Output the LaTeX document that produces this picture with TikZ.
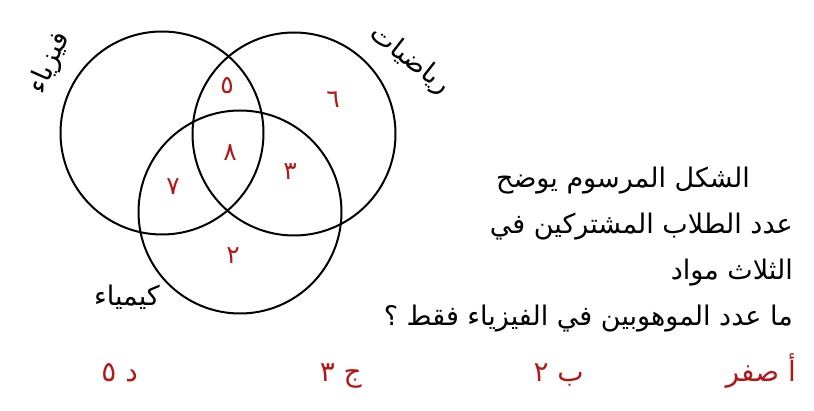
\documentclass[tikz,border=0pt]{standalone}
\usepackage{fontspec}
\newfontfamily\arabicfont[Script=Arabic]{DejaVu Sans}
\TeXXeTstate=1
\usetikzlibrary{positioning}
\definecolor{answerred}{RGB}{178,24,24}
\tikzset{
  setcircle/.style={draw, circle, line width=2pt, minimum size=203pt, inner sep=0pt},
  countlabel/.style={text=answerred, font=\arabicfont\fontsize{25}{25}\selectfont, inner sep=0pt},
  setname/.style={font=\arabicfont\fontsize{27}{27}\selectfont, inner sep=0pt},
  questionline/.style={font=\arabicfont\fontsize{27}{27}\selectfont, anchor=base east, inner sep=0pt},
  choice/.style={text=answerred, font=\arabicfont\fontsize{28}{28}\selectfont, anchor=base east, inner sep=0pt}
}

\begin{document}
\begin{tikzpicture}[x=1pt,y=-1pt]
    \useasboundingbox (0,0) rectangle (814,411);
    % the three sets
    \node[setcircle] (phys) at (162,133) {};
    \node[setcircle] (math) at (294,134) {};
    \node[setcircle] (chem) at (240,212) {};
    % set names
    \node[setname, rotate=66] (physname) at (50,63) {\beginR فيزياء\endR};
    \node[setname, rotate=-38] (mathname) at (410,60) {\beginR رياضيات\endR};
    \node[setname] (chemname) at (127,297) {\beginR كيمياء\endR};
    % counts in the regions
    \node[countlabel] (pm) at (227,86) {٥};
    \node[countlabel] (monly) at (333,100) {٦};
    \node[countlabel] (pmc) at (230,153) {٨};
    \node[countlabel] (mc) at (290,172) {٣};
    \node[countlabel] (pc) at (173,187) {٧};
    \node[countlabel] (conly) at (233,256) {٢};
    % the question
    \node[questionline] (q1) at (750,188) {\beginR الشكل المرسوم يوضح\endR};
    \node[questionline] (q2) at (793,234) {\beginR عدد الطلاب المشتركين في\endR};
    \node[questionline] (q3) at (793,280) {\beginR الثلاث مواد\endR};
    \node[questionline] (q4) at (793,326) {\beginR ما عدد الموهوبين في الفيزياء فقط ؟\endR};
    % the choices
    \node[choice] (ca) at (796,382) {\beginR أ صفر\endR};
    \node[choice] (cb) at (584,382) {\beginR ب ٢\endR};
    \node[choice] (cc) at (362,382) {\beginR ج ٣\endR};
    \node[choice] (cd) at (138,382) {\beginR د ٥\endR};
\end{tikzpicture}
\end{document}
